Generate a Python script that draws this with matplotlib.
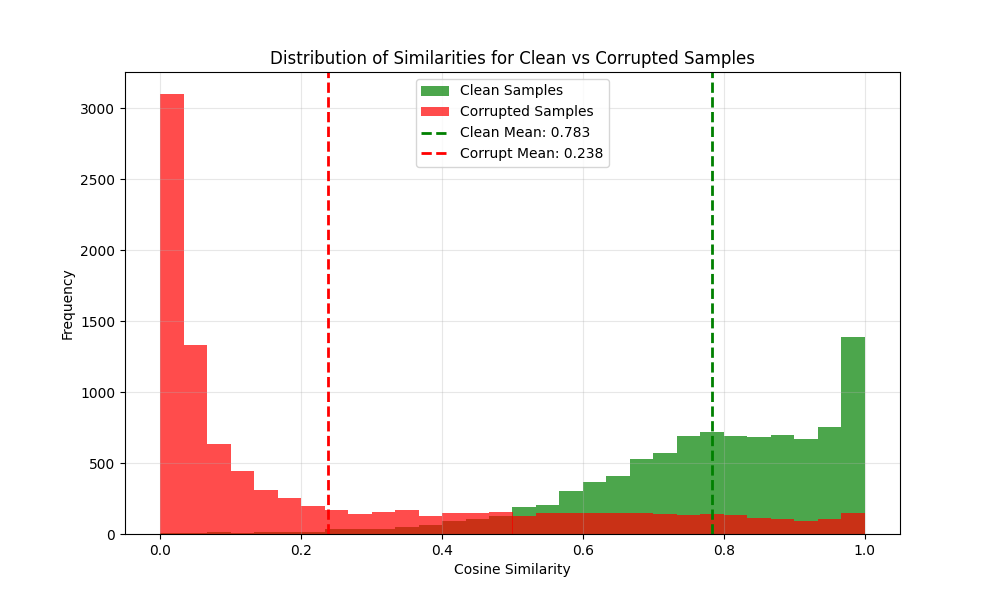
import numpy as np
import matplotlib
matplotlib.use("Agg")
import matplotlib.pyplot as plt

bin_edges = np.linspace(0, 1, 31)
clean_counts = [5, 5, 12, 5, 12, 12, 12, 33, 33, 33, 47, 61, 89, 103, 124,
                190, 204, 303, 366, 411, 528, 570, 690, 718, 690, 683, 697, 669, 753, 1387]
corrupt_counts = [3100, 1331, 634, 443, 310, 256, 197, 169, 141, 155, 169, 127, 149, 149, 155,
                  127, 148, 148, 148, 148, 148, 141, 134, 141, 134, 113, 106, 92, 106, 148]
clean_mean = 0.783
corrupt_mean = 0.238

fig, ax = plt.subplots(figsize=(10, 6), dpi=100)
centers = (bin_edges[:-1] + bin_edges[1:]) / 2
ax.hist(centers, bins=bin_edges, weights=clean_counts, alpha=0.7, color='green', label='Clean Samples')
ax.hist(centers, bins=bin_edges, weights=corrupt_counts, alpha=0.7, color='red', label='Corrupted Samples')
ax.axvline(clean_mean, color='green', linestyle='--', linewidth=2, label=f'Clean Mean: {clean_mean:.3f}')
ax.axvline(corrupt_mean, color='red', linestyle='--', linewidth=2, label=f'Corrupt Mean: {corrupt_mean:.3f}')
ax.set_xlabel('Cosine Similarity')
ax.set_ylabel('Frequency')
ax.set_title('Distribution of Similarities for Clean vs Corrupted Samples')
ax.legend(loc='upper center')
ax.grid(True, alpha=0.3)
fig.savefig('out.png')
